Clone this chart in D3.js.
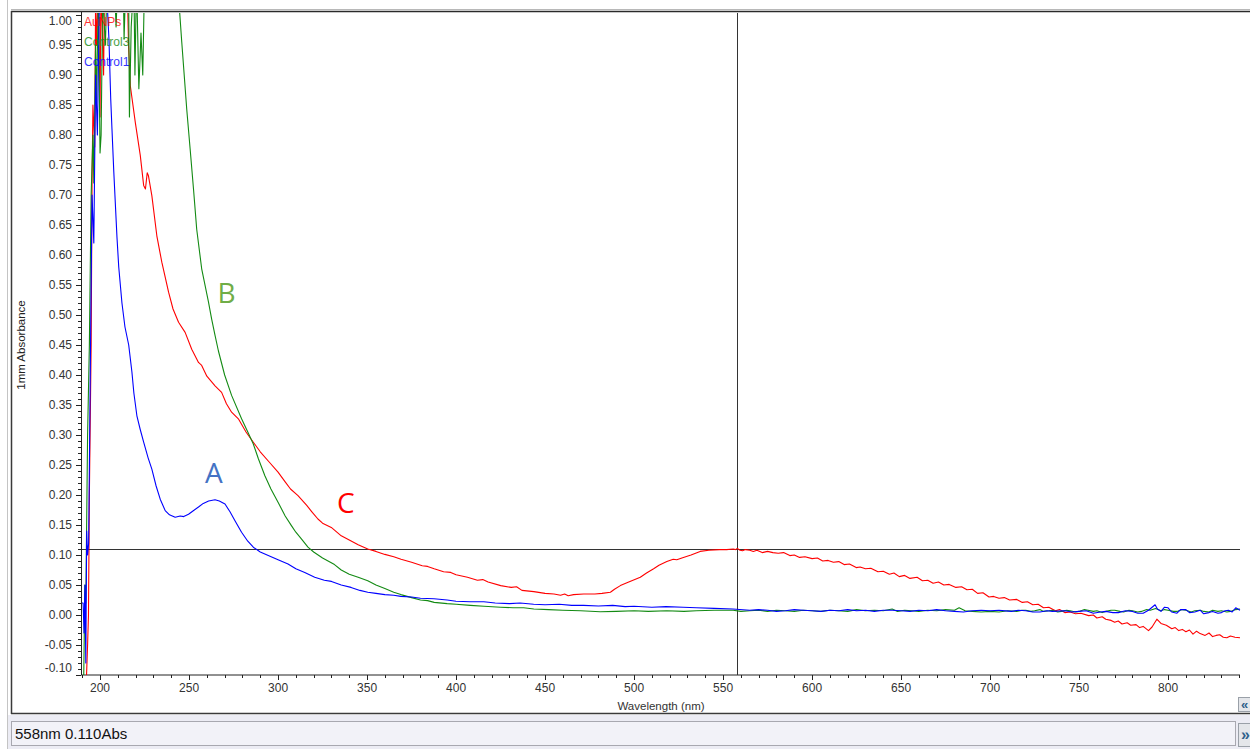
<!DOCTYPE html>
<html><head><meta charset="utf-8">
<script src="https://cdn.jsdelivr.net/npm/d3@7"></script>
<style>html,body{margin:0;padding:0;background:#fff;overflow:hidden}</style>
</head><body>
<svg id="c" width="1250" height="749"></svg>
<script>
// ---- data (wavelength nm, absorbance) ----
const seriesNames = ["AuNPs", "Control3", "Control1"];
const seriesColors = ["#ff0000", "#138a13", "#0000ff"];
const annotations = [
  {label: "A", nm: 264, abs: 0.22, color: "#4472c4"},
  {label: "B", nm: 271, abs: 0.52, color: "#70ad47"},
  {label: "C", nm: 338, abs: 0.17, color: "#ff0000"}
];
const cursorNm = 558, cursorAbs = 0.110;
const statusText = "558nm 0.110Abs";
const xTickValues = [200, 250, 300, 350, 400, 450, 500, 550, 600, 650, 700, 750, 800];
const yTickValues = [-0.10,-0.05,0.00,0.05,0.10,0.15,0.20,0.25,0.30,0.35,0.40,0.45,0.50,0.55,0.60,0.65,0.70,0.75,0.80,0.85,0.90,0.95,1.00];

const aunps = [[191.5,-0.15],[192.3,-0.11],[193,-0.05],[193.5,0.00],[194,0.20],[195,0.45],[195.5,0.72],[196,0.85],[197,0.78],[197.5,1.03],[198,0.95],[199,1.05],[200,0.83],[200.5,1.05],[202,0.90],[202.5,1.05],[205,1.06],[209,1.06],[213,1.06],[215.5,1.02],[216,0.95],[217,0.882],[219.8,0.821],[222.6,0.766],[224.5,0.716],[225.5,0.71],[226.5,0.737],[227.2,0.732],[229.1,0.699],[231.9,0.632],[234.7,0.588],[238.5,0.538],[241,0.51],[244.1,0.488],[247.8,0.471],[251.5,0.443],[255.3,0.421],[257.1,0.416],[260,0.398],[264.6,0.382],[268.3,0.371],[271,0.352],[273.9,0.338],[277.7,0.327],[282,0.305],[286.1,0.288],[290,0.272],[295,0.255],[300,0.238],[304,0.222],[307,0.21],[311.2,0.199],[316,0.183],[319,0.172],[322.4,0.16],[325,0.153],[329.9,0.146],[335.5,0.132],[340,0.125],[345,0.117],[350.4,0.11],[355,0.106],[360,0.101],[365,0.097],[369.1,0.093],[375,0.088],[381,0.082],[384,0.081],[387.7,0.077],[393,0.072],[397,0.071],[400,0.067],[406.4,0.063],[412,0.058],[415,0.059],[418,0.055],[425.1,0.049],[431,0.046],[434,0.047],[437,0.041],[443.7,0.039],[450,0.036],[455,0.035],[458.7,0.033],[461,0.035],[463,0.032],[466,0.034],[471.7,0.035],[478,0.035],[482,0.036],[486.7,0.038],[489,0.043],[492.3,0.049],[497,0.055],[503.5,0.063],[507,0.07],[511,0.077],[514,0.083],[518.4,0.089],[522,0.093],[524,0.092],[527.7,0.096],[532,0.1],[537.1,0.106],[542,0.108],[548,0.109],[552,0.109],[555.7,0.110],[557,0.109],[558,0.111],[559.5,0.108],[561,0.107],[562.5,0.109],[565,0.108],[567,0.106],[569,0.108],[572,0.104],[575,0.106],[578,0.104],[581,0.103],[584,0.104],[587.5,0.099],[590,0.1],[593,0.096],[596,0.097],[600,0.094],[603,0.095],[606,0.09],[609,0.091],[612,0.088],[615,0.089],[618,0.084],[621,0.085],[624.8,0.079],[627,0.08],[630,0.077],[633,0.078],[637,0.072],[640,0.073],[643.4,0.068],[646,0.07],[649,0.064],[652,0.066],[655,0.061],[659,0.063],[662,0.057],[665,0.058],[668,0.053],[671,0.055],[674,0.05],[677,0.051],[680.8,0.046],[684,0.047],[687,0.042],[690,0.043],[693,0.036],[696,0.037],[699.4,0.030],[702,0.031],[705,0.028],[708,0.029],[711,0.025],[715,0.026],[718.1,0.021],[721,0.022],[724,0.017],[727,0.018],[730,0.012],[733,0.013],[736.7,0.007],[739,0.009],[742,0.004],[745,0.005],[748,0.002],[751,0.003],[755.4,-0.001],[758,0.0],[760,-0.005],[763,-0.003],[765,-0.007],[768,-0.009],[770,-0.012],[772,-0.010],[774.1,-0.015],[777,-0.013],[779,-0.017],[782,-0.016],[784,-0.021],[786,-0.019],[789,-0.026],[791,-0.02],[793.7,-0.007],[796,-0.014],[799,-0.017],[802.1,-0.023],[804,-0.021],[806,-0.026],[808,-0.024],[810,-0.028],[812,-0.025],[814,-0.032],[816,-0.027],[818,-0.031],[820.8,-0.034],[823,-0.030],[825,-0.036],[827,-0.034],[829,-0.033],[831,-0.037],[833,-0.038],[835,-0.035],[837.6,-0.037],[840.4,-0.038]];

const control3 = [[190.3,-0.14],[190.8,-0.11],[191.5,0.05],[192,0.02],[193,0.30],[194,0.45],[195,0.70],[196,0.80],[196.5,0.72],[197.5,0.95],[198,0.85],[199,1.03],[200,0.77],[200.6,0.80],[201.5,1.03],[203,0.95],[204,1.06],[208,1.06],[209,0.98],[210,1.06],[213,1.06],[213.5,0.96],[214.5,1.06],[216,1.06],[216.5,0.83],[217.5,0.98],[219,1.06],[219.6,0.90],[220.5,1.06],[221.8,0.877],[222.5,0.93],[223,0.97],[224,0.90],[225,1.06],[244,1.06],[244.6,1.01],[245.9,0.955],[248.7,0.843],[250.6,0.777],[252.5,0.71],[254.3,0.643],[257.1,0.577],[260.9,0.522],[262.7,0.493],[264.6,0.466],[266.5,0.44],[270,0.40],[273.9,0.366],[279.5,0.327],[283,0.305],[286.1,0.285],[289,0.26],[292.6,0.232],[296,0.21],[300,0.188],[304,0.165],[307.5,0.149],[310,0.138],[313.1,0.127],[316.8,0.113],[320,0.105],[325,0.095],[331.7,0.084],[335.5,0.075],[340,0.068],[345,0.063],[350.4,0.057],[355,0.05],[360,0.044],[365,0.038],[369,0.034],[375,0.029],[380,0.025],[384,0.024],[387.7,0.021],[395,0.019],[400,0.018],[408,0.016],[415.7,0.0145],[425,0.013],[432,0.012],[438,0.012],[443.7,0.010],[452,0.009],[460,0.008],[470,0.007],[481,0.0055],[490,0.006],[500,0.007],[508,0.006],[518.4,0.007],[528,0.006],[535,0.007],[545,0.008],[555.7,0.008],[560,0.006],[565,0.007],[570,0.008],[575,0.006],[580,0.008],[585,0.007],[590,0.006],[595,0.008],[600,0.007],[605,0.006],[610,0.008],[615,0.007],[620,0.006],[625,0.009],[630,0.007],[635,0.008],[640,0.007],[645,0.010],[648,0.006],[652,0.008],[656,0.007],[660,0.006],[665,0.008],[670,0.007],[675,0.009],[680,0.008],[682.6,0.012],[686,0.007],[690,0.006],[695,0.005],[700,0.006],[705,0.005],[710,0.007],[715,0.006],[718,0.008],[720,0.008],[723,0.006],[725,0.007],[728,0.009],[730,0.006],[733,0.007],[735,0.008],[738,0.005],[740,0.006],[743,0.008],[745,0.007],[748,0.005],[750,0.006],[753,0.009],[755,0.008],[758,0.006],[760,0.007],[763,0.004],[765,0.006],[768,0.008],[770,0.008],[773,0.006],[775,0.005],[778,0.008],[780,0.007],[783,0.005],[785,0.006],[788,0.009],[790,0.008],[793,0.011],[796,0.007],[798,0.009],[800,0.008],[803,0.006],[805,0.006],[808,0.009],[810,0.008],[813,0.005],[815,0.007],[818,0.008],[820,0.006],[823,0.005],[825,0.008],[828,0.006],[830,0.007],[833,0.005],[835,0.006],[838,0.009],[840.4,0.010]];

const control1 = [[189.5,0.02],[190.5,0.02],[191,-0.03],[191.5,0.05],[192,-0.08],[192.5,0.14],[193,0.10],[193.6,0.12],[194.5,0.40],[195.5,0.70],[196.5,0.62],[197.5,0.90],[198.5,0.80],[199.5,1.0],[200.5,1.06],[203,1.06],[204,1.02],[205,0.96],[206,0.86],[206.7,0.81],[207.7,0.74],[209.5,0.63],[210.5,0.58],[212.3,0.52],[214,0.48],[216.1,0.45],[217.9,0.405],[219,0.37],[220.7,0.332],[222.5,0.31],[224.5,0.288],[227,0.262],[229.1,0.243],[231.5,0.215],[233.8,0.193],[236.6,0.174],[239,0.167],[242.2,0.163],[245,0.165],[247,0.164],[249.7,0.168],[252,0.173],[255.3,0.18],[258,0.186],[261,0.19],[264.6,0.192],[267,0.19],[270.2,0.185],[273,0.172],[275.8,0.157],[279.5,0.138],[283,0.123],[286.1,0.113],[290,0.105],[294.5,0.099],[300,0.092],[305.6,0.085],[310,0.077],[315,0.071],[320.6,0.063],[326,0.058],[330,0.056],[335.5,0.05],[341,0.046],[346,0.041],[350.4,0.038],[355,0.036],[360,0.034],[365,0.033],[369,0.031],[375,0.030],[380,0.028],[387.6,0.027],[395,0.025],[400,0.023],[408,0.022],[415.6,0.022],[422,0.020],[430,0.019],[436,0.020],[443.6,0.018],[450,0.017],[458,0.018],[465,0.016],[471.6,0.016],[480,0.015],[488,0.016],[495,0.014],[500,0.0145],[510,0.013],[518,0.014],[527.6,0.013],[535,0.012],[545,0.011],[555.5,0.010],[565,0.008],[570,0.009],[575,0.008],[580,0.006],[585,0.007],[590,0.009],[595,0.008],[600,0.007],[605,0.006],[610,0.008],[615,0.007],[620,0.009],[625,0.007],[630,0.008],[635,0.006],[640,0.008],[645,0.008],[650,0.007],[655,0.006],[660,0.008],[665,0.007],[670,0.009],[675,0.007],[680,0.006],[685,0.005],[690,0.007],[695,0.008],[700,0.007],[705,0.008],[712,0.006],[716,0.008],[720,0.007],[724,0.005],[728,0.005],[732,0.007],[735,0.006],[742,0.007],[746,0.005],[750,0.006],[754,0.007],[758,0.003],[762,0.005],[765,0.006],[769,0.004],[772,0.004],[776,0.007],[780,0.006],[783,0.003],[786,0.003],[789,0.008],[792.7,0.017],[794,0.010],[796,0.006],[798,0.013],[800,0.012],[802,0.005],[805,0.003],[807,0.009],[810,0.009],[812,0.004],[815,0.005],[818,0.008],[820,0.002],[823,0.004],[825,0.006],[828,0.003],[830,0.004],[832,0.007],[834,0.008],[836,0.005],[838,0.012],[840.4,0.008]];

const seriesData = [aunps, control3, control1];

// ---- layout ----
const svg = d3.select("#c");
const W = 1250, H = 749;
const plot = {left: 81, right: 1240, top: 12, bottom: 675};
const x = d3.scaleLinear().domain([189.3, 840.4]).range([plot.left, plot.right]);
const y = d3.scaleLinear().domain([-0.1, 1.005]).range([plot.bottom, plot.top]);
const FONT = "'Liberation Sans', Arial, sans-serif";
const labelColor = "#333";

// window frame
svg.append("line").attr("x1",7.5).attr("x2",7.5).attr("y1",0).attr("y2",H).attr("stroke","#c4c4c4");
svg.append("line").attr("x1",11).attr("x2",W).attr("y1",9.5).attr("y2",9.5).attr("stroke","#b8b8b8");
svg.append("line").attr("x1",11).attr("x2",W).attr("y1",11.5).attr("y2",11.5).attr("stroke","#2a2a2a").attr("stroke-width",1.5);
svg.append("line").attr("x1",11.5).attr("x2",11.5).attr("y1",11).attr("y2",714).attr("stroke","#3a3a3a").attr("stroke-width",1.5);
svg.append("line").attr("x1",11).attr("x2",W).attr("y1",713.5).attr("y2",713.5).attr("stroke","#3a3a3a").attr("stroke-width",1.5);

// status bar
svg.append("rect").attr("x",8).attr("y",715).attr("width",W-8).attr("height",H-715).attr("fill","#ececf4");
svg.append("rect").attr("x",11.5).attr("y",721.5).attr("width",1224).attr("height",24).attr("fill","#f2f2f8").attr("stroke","#a8a8b0");
svg.append("text").attr("x",15).attr("y",739).attr("font-family",FONT).attr("font-size",15).attr("fill","#111").text(statusText);

// right-side buttons
[[697,14],[723,23]].forEach(([by,bh],i)=>{
  svg.append("rect").attr("x",1238.5).attr("y",by+0.5).attr("width",14).attr("height",bh).attr("fill","#e4e6ea").attr("stroke","#9aa0a8");
  svg.append("text").attr("x",1241).attr("y",by+bh/2+5).attr("font-family",FONT).attr("font-weight","bold")
    .attr("font-size",i===0?13:16).attr("fill","#2e5f8a").text(i===0?"«":"»");
});

// axes
const gx = svg.append("g").attr("transform",`translate(0,${plot.bottom})`);
gx.append("line").attr("x1",plot.left).attr("x2",plot.right).attr("stroke","#222");
const minorX = d3.range(190, 841, 10);
gx.selectAll("line.mx").data(minorX).join("line").attr("class","mx")
  .attr("x1",d=>Math.round(x(d))+0.5).attr("x2",d=>Math.round(x(d))+0.5)
  .attr("y1",0).attr("y2",d=>d%50===0?5:3).attr("stroke","#222");
gx.selectAll("text").data(xTickValues).join("text")
  .attr("x",d=>x(d)).attr("y",17).attr("text-anchor","middle")
  .attr("font-family",FONT).attr("font-size",12).attr("fill",labelColor).text(d=>d);
svg.append("text").attr("x",661).attr("y",710).attr("text-anchor","middle")
  .attr("font-family",FONT).attr("font-size",11.5).attr("fill",labelColor).text("Wavelength (nm)");

const gy = svg.append("g");
gy.append("line").attr("x1",plot.left+0.5).attr("x2",plot.left+0.5).attr("y1",plot.top).attr("y2",plot.bottom).attr("stroke","#222");
const minorY = d3.range(-10, 101, 1).map(v=>v/100);
gy.selectAll("line.my").data(minorY).join("line").attr("class","my")
  .attr("x1",plot.left).attr("x2",(d,i)=>plot.left-((Math.round(d*100)%5===0)?5:3))
  .attr("y1",d=>Math.round(y(d))+0.5).attr("y2",d=>Math.round(y(d))+0.5).attr("stroke","#222");
gy.selectAll("text").data(yTickValues).join("text")
  .attr("x",72).attr("y",d=>Math.min(668, Math.max(21, y(d)))+4).attr("text-anchor","end")
  .attr("font-family",FONT).attr("font-size",12).attr("fill",labelColor).text(d=>d.toFixed(2));
svg.append("text").attr("transform","translate(25,345) rotate(-90)").attr("text-anchor","middle")
  .attr("font-family",FONT).attr("font-size",11.5).attr("fill","#222").text("1mm Absorbance");

// clip
svg.append("clipPath").attr("id","clip").append("rect")
  .attr("x",plot.left+1).attr("y",plot.top+1).attr("width",plot.right-plot.left).attr("height",plot.bottom-plot.top-1);

const lineGen = d3.line().x(d=>x(d[0])).y(d=>y(d[1]));
const gl = svg.append("g").attr("clip-path","url(#clip)");

// crosshair
gl.append("line").attr("x1",plot.left).attr("x2",plot.right).attr("y1",Math.round(y(cursorAbs))+0.5).attr("y2",Math.round(y(cursorAbs))+0.5).attr("stroke","#333");
gl.append("line").attr("x1",Math.round(x(cursorNm))+0.5).attr("x2",Math.round(x(cursorNm))+0.5).attr("y1",plot.top).attr("y2",plot.bottom).attr("stroke","#333");

// series
[0,1,2].forEach(i=>{
  gl.append("path").datum(seriesData[i]).attr("d",lineGen).attr("fill","none")
    .attr("stroke",seriesColors[i]).attr("stroke-width",1.1).attr("stroke-linejoin","round");
});

// legend
seriesNames.forEach((n,i)=>{
  svg.append("text").attr("x",84).attr("y",26+i*20).attr("font-family",FONT).attr("font-size",12)
    .attr("fill",seriesColors[i]).attr("opacity",0.8).text(n);
});

// annotations
annotations.forEach(a=>{
  svg.append("text").attr("x",x(a.nm)).attr("y",y(a.abs)).attr("text-anchor","middle")
    .attr("font-family","'Open Sans', 'Noto Sans', sans-serif").attr("font-size",28)
    .attr("fill",a.color).text(a.label);
});
</script>
</body></html>
